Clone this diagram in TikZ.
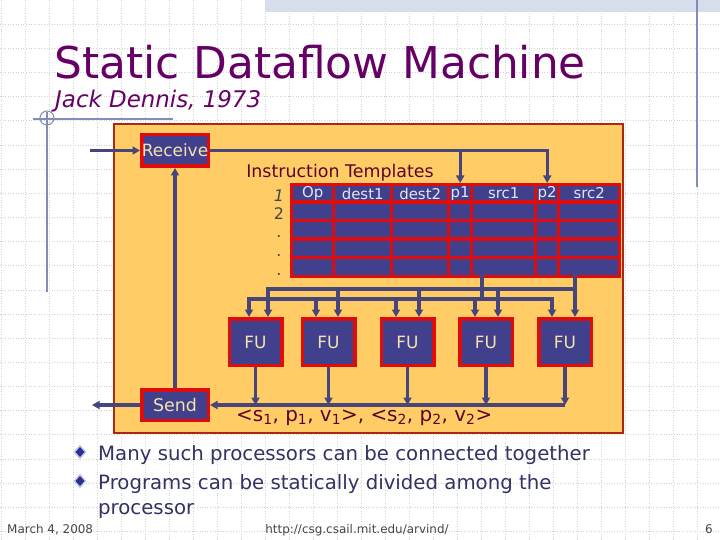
\documentclass[tikz,border=0pt]{standalone}
\usepackage{fontspec}
\setmainfont{DejaVu Sans}
\usetikzlibrary{arrows.meta}
\definecolor{ttl}{RGB}{102,0,102}
\definecolor{orng}{RGB}{255,204,102}
\definecolor{obrd}{RGB}{170,40,20}
\definecolor{fblue}{RGB}{64,64,140}
\definecolor{fred}{RGB}{222,12,12}
\definecolor{cream}{RGB}{245,226,172}
\definecolor{hdr}{RGB}{228,228,242}
\definecolor{lcol}{RGB}{70,70,122}
\definecolor{maroon}{RGB}{92,4,44}
\definecolor{navy}{RGB}{50,50,100}
\definecolor{gridc}{RGB}{210,210,210}
\definecolor{decor}{RGB}{130,140,185}
\definecolor{strip}{RGB}{214,222,236}
\definecolor{foot}{RGB}{70,70,70}
\definecolor{bulin}{RGB}{45,45,150}
\definecolor{bulout}{RGB}{200,200,232}
\begin{document}
\begin{tikzpicture}[x=1bp,y=-1bp,
  blk/.style={fill=fblue, draw=fred, line width=3.5bp, text=cream, inner sep=0pt,
    font=\fontsize{17}{19}\selectfont},
  cell/.style={fill=fblue, draw=fred, line width=3.4bp, inner sep=0pt, text=hdr,
    anchor=north west, font=\fontsize{15}{17}\selectfont},
  conn/.style={draw=lcol, line width=3.1bp, line cap=rect},
  arr/.style={draw=lcol, line width=3.1bp, -{Triangle[length=7.5bp,width=8bp]}},
  gridln/.style={draw=gridc, line width=0.6bp, dotted},
  rowlab/.style={text=foot, anchor=base, inner sep=0pt, font=\fontsize{16}{18}\selectfont},
  bul/.style={text=navy, anchor=base west, inner sep=0pt, font=\fontsize{19.8}{24}\selectfont},
  ft/.style={text=foot, anchor=base, inner sep=0pt, font=\fontsize{12}{14}\selectfont}]
\useasboundingbox (0,0) rectangle (720,540);
\fill[white] (0,0) rectangle (720,540);
% background grid
\foreach \i in {0,...,30} \draw[gridln] ({1+24*\i},0) -- ({1+24*\i},540);
\foreach \j in {1,...,22} \draw[gridln] (0,{24.15*\j}) -- (720,{24.15*\j});
% decorations
\fill[strip] (265,0) rectangle (720,12);
\draw[decor, line width=1.2bp] (697,0) -- (697,187);
\draw[decor, line width=1.2bp] (47,112) -- (47,292);
\draw[decor, line width=1.2bp] (33,119) -- (173,119);
\draw[decor, line width=1bp] (47,118) circle (7);
% titles
\node[anchor=base west, inner sep=0pt, text=ttl, font=\fontsize{44}{48}\selectfont] (title) at (54,79) {Static Dataflow Machine};
\node[anchor=base west, inner sep=0pt, text=ttl, font=\fontsize{23}{26}\selectfont\itshape] (sub) at (55,108) {Jack Dennis, 1973};
% orange processor box
\fill[orng, draw=obrd, line width=2.2bp] (114,124) rectangle (623,433);
% receive / send
\node[blk, minimum width=66.5bp, minimum height=31.5bp] (receive) at (175,150.5) {Receive};
\node[blk, minimum width=66.5bp, minimum height=30.5bp, font=\fontsize{17.5}{19}\selectfont] (send) at (175,405) {Send};
% instruction templates
\node[anchor=base, inner sep=0pt, text=maroon, font=\fontsize{17.5}{20}\selectfont] (ithdr) at (340,178) {Instruction Templates};
\foreach \ya/\yb [count=\ri] in {183/200.5, 200.5/219, 219/237.5, 237.5/256, 256/275} {
  \foreach \xa/\xb/\cn/\lab in {290/332/op/Op, 332/390/da/dest1, 390/447/db/dest2, 447/470/pa/p1, 470/534/sa/src1, 534/557/pb/p2, 557/618/sb/src2} {
    \pgfmathsetmacro\w{\xb-\xa}
    \pgfmathsetmacro\h{\yb-\ya}
    \node[cell, minimum width=\w bp, minimum height=\h bp] (c-\cn-\ri) at (\xa,\ya) {\ifnum\ri=1 \lab\fi};
  }
}
\node[rowlab] (rl1) at (279,202) {\itshape 1};
\node[rowlab] (rl2) at (279,220) {2};
\node[rowlab] (rd1) at (279,238) {.};
\node[rowlab] (rd2) at (279,257) {.};
\node[rowlab] (rd3) at (279,276) {.};
% functional units
\foreach \n/\cx in {fu1/255.5, fu2/328.5, fu3/407.5, fu4/486, fu5/565}
  \node[blk, minimum width=52.5bp, minimum height=46.5bp] (\n) at (\cx,342) {FU};
% receive -> p1, p2
\draw[arr] (receive.east) -| (c-pa-1.north);
\draw[arr] (receive.east) -| (c-pb-1.north);
\coordinate (rin) at (90,150.5);
\draw[arr] (rin) -- (receive.west);
% table -> buses
\coordinate (tb1) at (482,276);
\coordinate (tb2) at (575,276);
\coordinate (ubL) at (268,289);
\coordinate (lbL) at (249,299);
\coordinate (lbR) at (552,299);
\draw[conn] (tb2) |- (ubL);
\draw[conn] (tb1) -- (tb1 |- lbL);
\draw[conn] (lbL) -- (lbR);
\foreach \f/\lx/\rx in {fu1/249/268, fu2/316/338, fu3/396/419, fu4/475/498, fu5/552/575} {
  \coordinate (la) at (\lx,299);
  \coordinate (ra) at (\rx,289);
  \draw[arr] (la) -- (la |- \f.north);
  \draw[arr] (ra) -- (ra |- \f.north);
}
% outputs
\coordinate (ob) at (565,405);
\foreach \f in {fu1,fu2,fu3,fu4,fu5}
  \draw[arr] (\f.south) -- (\f.south |- ob);
\draw[arr] (ob) -- (send.east);
\draw[arr] (send.north) -- (send.north |- receive.south);
\coordinate (sout) at (92,405);
\draw[arr] (send.west) -- (sout);
% tuple text
\node[anchor=base west, inner sep=0pt, text=maroon, font=\fontsize{20}{22}\selectfont] (tuple) at (236,421)
  {<s\textsubscript{1}, p\textsubscript{1}, v\textsubscript{1}>, <s\textsubscript{2}, p\textsubscript{2}, v\textsubscript{2}>};
% bullets
\foreach \by in {452,481} {
  \fill[bulout] (80,{\by-7.5}) -- (86.5,\by) -- (80,{\by+7.5}) -- (73.5,\by) -- cycle;
  \fill[bulin] (80,{\by-5}) -- (84.5,\by) -- (80,{\by+5}) -- (75.5,\by) -- cycle;
}
\node[bul] (b1) at (98,460) {Many such processors can be connected together};
\node[bul] (b2) at (98,489) {Programs can be statically divided among the};
\node[bul] (b3) at (98,514) {processor};
% footer
\node[ft, anchor=base west] (date) at (7,533) {March 4, 2008};
\node[ft] (url) at (357,533) {http://csg.csail.mit.edu/arvind/};
\node[ft, anchor=base east] (pg) at (713,533) {6};
\end{tikzpicture}
\end{document}
